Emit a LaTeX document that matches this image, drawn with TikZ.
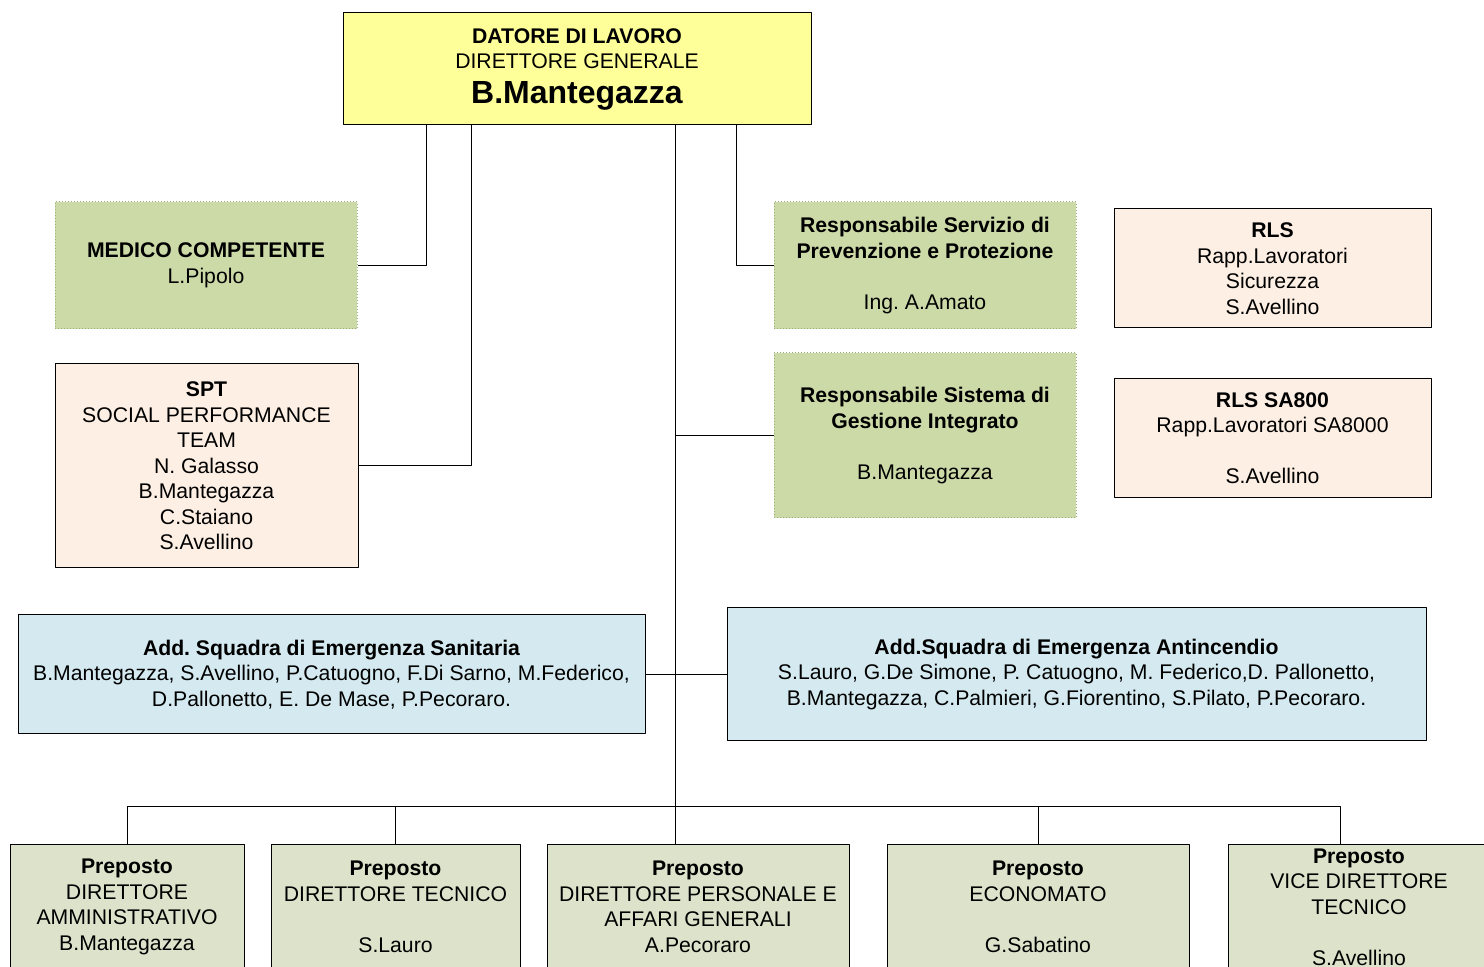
\documentclass[tikz,border=0pt]{standalone}
\usepackage{fontspec}
\setmainfont{Liberation Sans}
\definecolor{gialloDL}{HTML}{FFFF99}
\definecolor{verdeSPP}{HTML}{CCDAA8}
\definecolor{bordoSPP}{HTML}{9AAE7A}
\definecolor{pescaRLS}{HTML}{FDEFE4}
\definecolor{azzurroAdd}{HTML}{D4EAF0}
\definecolor{grigioPrep}{HTML}{DDE3CB}
\frenchspacing
\begin{document}
\begin{tikzpicture}[x=0.5pt,y=-0.5pt, line join=round,
		font=\fontsize{10.6}{12.75}\selectfont\frenchspacing,
		box/.style={draw, line width=0.5pt, align=center, inner sep=0pt},
		datore/.style={box, fill=gialloDL, minimum width=234pt, minimum height=56pt},
		spp/.style={box, draw=bordoSPP, densely dotted, fill=verdeSPP, minimum width=151pt, minimum height=63.5pt},
		rls/.style={box, fill=pescaRLS, minimum width=158.5pt, minimum height=59.5pt},
		squadra/.style={box, fill=azzurroAdd, minimum height=59.5pt},
		preposto/.style={box, fill=grigioPrep, minimum height=63pt},
		link/.style={line width=0.5pt}]
	\useasboundingbox (0,0) rectangle (1484,967);
	\clip (0,0) rectangle (1484,967);
	% vertice
	\node[datore] (top) at (577,69) {{\bfseries DATORE DI LAVORO}\\DIRETTORE GENERALE\\[4.5pt]{\fontsize{16}{18}\selectfont\bfseries B.Mantegazza}};
	% servizi di staff
	\node[spp] (medico) at (206,265.5) {{\bfseries MEDICO COMPETENTE}\\L.Pipolo};
	\node[rls, fill=pescaRLS, minimum width=151.5pt, minimum height=102pt] (spt) at (206.5,466) {{\bfseries SPT}\\SOCIAL PERFORMANCE\\TEAM\\N. Galasso\\B.Mantegazza\\C.Staiano\\S.Avellino};
	\node[spp] (rspp) at (925,265.5) {{\bfseries Responsabile Servizio di}\\{\bfseries Prevenzione e Protezione}\\[12.75pt]Ing. A.Amato};
	\node[spp, minimum height=82.5pt] (rsgi) at (925,435.5) {{\bfseries Responsabile Sistema di}\\{\bfseries Gestione Integrato}\\[12.75pt]B.Mantegazza};
	\node[rls] (rls) at (1272.5,268.5) {{\bfseries RLS}\\Rapp.Lavoratori\\Sicurezza\\S.Avellino};
	\node[rls] (rlssa) at (1272.5,438) {{\bfseries RLS SA800}\\Rapp.Lavoratori SA8000\\[12.75pt]S.Avellino};
	% squadre di emergenza
	\node[squadra, minimum width=313.5pt] (sanitaria) at (331.5,674.5) {{\bfseries Add. Squadra di Emergenza Sanitaria}\\B.Mantegazza, S.Avellino, P.Catuogno, F.Di Sarno, M.Federico,\\D.Pallonetto, E. De Mase, P.Pecoraro.};
	\node[squadra, minimum width=349.5pt, minimum height=66.5pt] (antincendio) at (1076.5,674.5) {{\bfseries Add.Squadra di Emergenza Antincendio}\\S.Lauro, G.De Simone, P. Catuogno, M. Federico,D. Pallonetto,\\B.Mantegazza, C.Palmieri, G.Fiorentino, S.Pilato, P.Pecoraro.};
	% preposti
	\node[preposto, minimum width=117pt] (p1) at (127,907) {{\bfseries Preposto}\\DIRETTORE\\AMMINISTRATIVO\\B.Mantegazza};
	\node[preposto, minimum width=124.5pt] (p2) at (395.5,907) {{\bfseries Preposto}\\DIRETTORE TECNICO\\[12.75pt]S.Lauro};
	\node[preposto, minimum width=151pt] (p3) at (698,907) {{\bfseries Preposto}\\DIRETTORE PERSONALE E\\AFFARI GENERALI\\A.Pecoraro};
	\node[preposto, minimum width=151pt] (p4) at (1038,907) {{\bfseries Preposto}\\ECONOMATO\\[12.75pt]G.Sabatino};
	\node[preposto, minimum width=131pt] (p5) at (1359,907) {{\bfseries Preposto}\\VICE DIRETTORE\\TECNICO\\[12.75pt]S.Avellino};
	% collegamenti
	\coordinate (c1) at (426,0);
	\coordinate (c2) at (471,0);
	\coordinate (trunk) at (675,0);
	\coordinate (c3) at (736,0);
	\coordinate (bus) at (675,806);
	\coordinate (d5) at (1340,0);
	\draw[link] (top.south -| c1) |- (medico.east);
	\draw[link] (top.south -| c2) |- (spt.east);
	\draw[link] (top.south -| c3) |- (rspp.west);
	\draw[link] (top.south -| trunk) -- (p3.north -| trunk);
	\draw[link] (rsgi.west -| trunk) -- (rsgi.west);
	\draw[link] (sanitaria.east) -- (antincendio.west);
	\foreach \p in {p1,p2,p4}
		\draw[link] (\p.north) |- (bus);
	\draw[link] (p5.north -| d5) |- (bus);
\end{tikzpicture}
\end{document}
